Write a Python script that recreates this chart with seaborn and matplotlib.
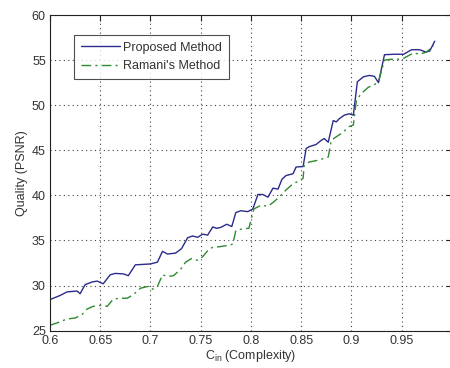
import matplotlib
matplotlib.use("Agg")
import matplotlib.pyplot as plt
import seaborn as sns
import pandas as pd

proposed_x = [0.600, 0.610, 0.617, 0.627, 0.630, 0.635, 0.642, 0.647, 0.653, 0.660,
              0.665, 0.673, 0.678, 0.685, 0.700, 0.707, 0.712, 0.717, 0.725, 0.731,
              0.737, 0.742, 0.747, 0.752, 0.757, 0.762, 0.766, 0.770, 0.776, 0.781,
              0.785, 0.790, 0.797, 0.802, 0.807, 0.812, 0.817, 0.822, 0.827, 0.831,
              0.835, 0.842, 0.845, 0.852, 0.855, 0.858, 0.865, 0.870, 0.873, 0.877,
              0.882, 0.885, 0.888, 0.893, 0.898, 0.902, 0.906, 0.912, 0.918, 0.923,
              0.927, 0.933, 0.943, 0.952, 0.960, 0.968, 0.974, 0.978, 0.983]
proposed_y = [28.45, 28.9, 29.3, 29.4, 29.1, 30.1, 30.4, 30.5, 30.2, 31.2,
              31.35, 31.3, 31.1, 32.3, 32.4, 32.6, 33.8, 33.5, 33.6, 34.1,
              35.3, 35.5, 35.35, 35.7, 35.6, 36.5, 36.35, 36.45, 36.8, 36.55,
              38.1, 38.3, 38.2, 38.5, 40.1, 40.1, 39.8, 40.8, 40.7, 41.8,
              42.2, 42.4, 43.15, 43.2, 45.2, 45.4, 45.65, 46.1, 46.3, 45.9,
              48.3, 48.15, 48.5, 48.9, 49.05, 48.9, 52.6, 53.15, 53.3, 53.2,
              52.5, 55.6, 55.65, 55.65, 56.15, 56.15, 55.9, 56.0, 57.1]

ramani_x = [0.600, 0.608, 0.617, 0.625, 0.632, 0.637, 0.643, 0.650, 0.657, 0.663,
            0.670, 0.677, 0.683, 0.690, 0.697, 0.702, 0.707, 0.712, 0.717, 0.723,
            0.730, 0.735, 0.741, 0.747, 0.752, 0.758, 0.763, 0.768, 0.777, 0.782,
            0.785, 0.792, 0.798, 0.803, 0.810, 0.817, 0.823, 0.828, 0.835, 0.842,
            0.848, 0.852, 0.853, 0.858, 0.867, 0.877, 0.880, 0.885, 0.892, 0.897,
            0.902, 0.905, 0.910, 0.917, 0.922, 0.927, 0.933, 0.940, 0.947, 0.952,
            0.962, 0.968, 0.975, 0.982]
ramani_y = [25.6, 25.9, 26.3, 26.4, 26.8, 27.4, 27.7, 27.8, 27.7, 28.5,
            28.6, 28.6, 29.0, 29.7, 29.9, 29.6, 29.9, 31.2, 31.0, 31.1,
            31.8, 32.6, 33.0, 32.8, 33.2, 34.0, 34.3, 34.3, 34.45, 34.6,
            36.1, 36.3, 36.35, 38.5, 38.9, 38.8, 39.3, 39.8, 40.6, 41.3,
            41.6, 41.9, 43.3, 43.7, 43.9, 44.25, 46.1, 46.5, 47.0, 47.6,
            47.8, 50.55, 51.3, 52.0, 52.2, 52.6, 55.0, 55.1, 55.1, 55.2,
            55.8, 55.65, 55.9, 56.6]

x_ticks = [0.6, 0.65, 0.7, 0.75, 0.8, 0.85, 0.9, 0.95, 1.0]
x_tick_labels = ["0.6", "0.65", "0.7", "0.75", "0.8", "0.85", "0.9", "0.95", ""]
y_ticks = [25, 30, 35, 40, 45, 50, 55, 60]

sns.set_style("white")
plt.rcParams["font.family"] = ["Liberation Sans", "DejaVu Sans"]
plt.rcParams["mathtext.fontset"] = "custom"
plt.rcParams["mathtext.rm"] = "Liberation Sans"
plt.rcParams["mathtext.it"] = "Liberation Sans"

df_p = pd.DataFrame({"x": proposed_x, "y": proposed_y})
df_r = pd.DataFrame({"x": ramani_x, "y": ramani_y})

fig = plt.figure(figsize=(4.5, 3.68), dpi=100)
ax = fig.add_axes([0.111, 0.1014, 0.893, 0.8578])

sns.lineplot(data=df_p, x="x", y="y", ax=ax, color="#2b2b8c", lw=1.0,
             label="Proposed Method", sort=False)
sns.lineplot(data=df_r, x="x", y="y", ax=ax, color="#2f8a2f", lw=1.0,
             linestyle=(0, (7, 3, 1.5, 3)), label="Ramani's Method", sort=False)

ax.set_xlim(0.6, 1.0)
ax.set_ylim(25, 60)
ax.set_xticks(x_ticks)
ax.set_xticklabels(x_tick_labels)
ax.set_yticks(y_ticks)
ax.tick_params(direction="in", length=4, width=0.8, labelsize=9,
               labelcolor="#333333", top=True, right=True, color="#222222", pad=3)
ax.grid(True, linestyle=(0, (1, 3)), color="#444444", lw=0.8)
for s in ax.spines.values():
    s.set_color("#222222")
    s.set_linewidth(0.8)

ax.set_xlabel(r"C$_{\rm in}$ (Complexity)", fontsize=9, color="#333333", labelpad=1)
ax.set_ylabel("Quality (PSNR)", fontsize=9, color="#333333", labelpad=3)

leg = ax.legend(loc="upper left", bbox_to_anchor=(0.06, 0.937), borderaxespad=0,
                fontsize=9, frameon=True, fancybox=False, handlelength=3.1,
                handletextpad=0.3, borderpad=0.55, labelspacing=0.5)
leg.get_frame().set_edgecolor("#222222")
leg.get_frame().set_linewidth(0.8)
for t in leg.get_texts():
    t.set_color("#333333")

fig.savefig("out.png", dpi=100)
